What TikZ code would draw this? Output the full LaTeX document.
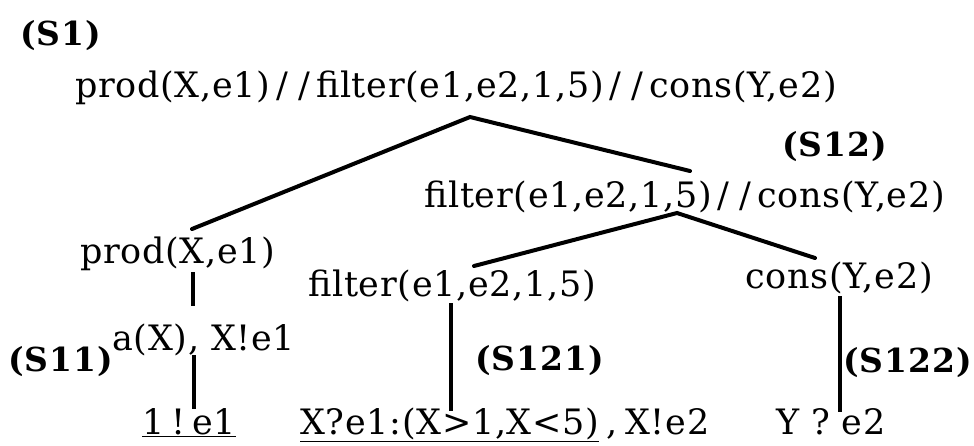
\documentclass[tikz,border=0pt]{standalone}
\usepackage{fontspec}
\setmainfont{DejaVu Serif}
\newfontfamily\txtfam[LetterSpace=2]{DejaVu Serif}
\newfontfamily\lblfam[LetterSpace=3]{DejaVu Serif}
\newcommand\txtfont{\txtfam\fontsize{35}{38}\selectfont}
\newcommand\lblfont{\lblfam\fontsize{33}{35}\selectfont\bfseries}
\newcommand\dsl{\hspace{6pt}/\hspace{10pt}/\hspace{6pt}}
\begin{document}
\begin{tikzpicture}[x=1pt,y=-1pt,
  lbl/.style={font=\lblfont, inner sep=0pt, anchor=base west},
  txt/.style={font=\txtfont, inner sep=0pt, anchor=base west},
  edge/.style={line width=4pt, line cap=round},
  vedge/.style={line width=3.2pt}]
\useasboundingbox (0,0) rectangle (974,445);
% labels
\node[lbl] (s1) at (20,45) {(S1)};
\node[lbl] (s12) at (782,156) {(S12)};
\node[lbl] (s11) at (8,371) {(S11)};
\node[lbl] (s121) at (475,370) {(S121)};
\node[lbl] (s122) at (843,372) {(S122)};
% texts
\node[txt] (l1) at (75,97) {prod(X,e1)\dsl filter(e1,e2,1,5)\dsl cons(Y,e2)};
\node[txt] (l2) at (424,207) {filter(e1,e2,1,5)\dsl cons(Y,e2)};
\node[txt] (prod) at (80,263) {prod(X,e1)};
\node[txt] (ax) at (112,350) {a(X), X!e1};
\node[txt] (one) at (142,434) {\underline{1\hspace{7pt}!\hspace{7pt}e1}};
\node[txt] (filt) at (308,296) {filter(e1,e2,1,5)};
\node[txt] (xq) at (300,434) {\underline{X?e1:(X>1,X<5)}\hspace{7pt},\hspace{8pt}X!e2};
\node[txt] (cons) at (745,288) {cons(Y,e2)};
\node[txt] (yq) at (776,434) {Y ? e2};
% coordinates
\coordinate (a1) at (470,117);
\coordinate (a1l) at (192,229);
\coordinate (a1r) at (690,171);
\coordinate (a2) at (677,213);
\coordinate (a2l) at (474,266);
\coordinate (a2r) at (815,258);
\coordinate (v1t) at (193,272);
\coordinate (v1b) at (193,306);
\coordinate (v2t) at (194,355);
\coordinate (v2b) at (194,409);
\coordinate (v3t) at (451,303);
\coordinate (v3b) at (451,411);
\coordinate (v4t) at (840,296);
\coordinate (v4b) at (840,412);
% edges
\draw[edge] (a1l) -- (a1) -- (a1r);
\draw[edge] (a2l) -- (a2) -- (a2r);
\draw[vedge] (v1t) -- (v1b);
\draw[vedge] (v2t) -- (v2b);
\draw[vedge] (v3t) -- (v3b);
\draw[vedge] (v4t) -- (v4b);
\end{tikzpicture}
\end{document}
